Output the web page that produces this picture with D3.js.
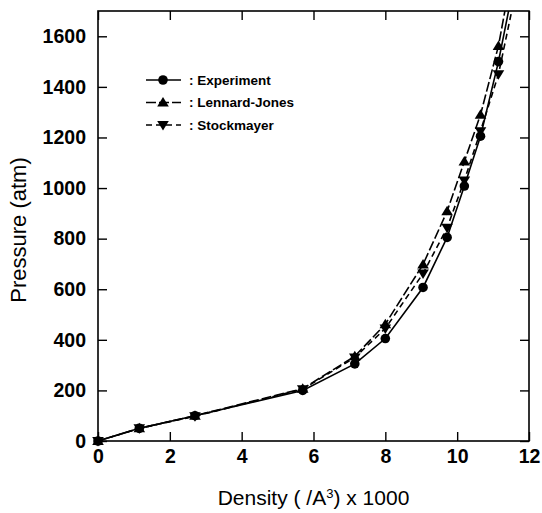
<!DOCTYPE html>
<meta charset="utf-8">
<style>
  body { margin: 0; background: #fff; }
  svg { display: block; font-family: "Liberation Sans", Arial, sans-serif; }
  .axis path { display: none; }
  .axis line { stroke: #000; stroke-width: 1.4px; }
  .axis text { font-size: 19.5px; font-weight: bold; fill: #000; }
  .legend text { font-size: 13.5px; font-weight: bold; fill: #000; }
</style>
<body>
<div id="chart"></div>
<script src="https://d3js.org/d3.v7.min.js"></script>
<script>

// values (last point lies above the frame and gets clipped)
var density    = [0, 1.15, 2.7, 5.7, 7.15, 8.0, 9.05, 9.72, 10.2, 10.65, 11.15, 11.6];
var experiment = [0, 50, 100, 200, 305, 405, 607, 805, 1008, 1205, 1500, 1820];
var lennard    = [0, 50, 100, 207, 335, 462, 698, 908, 1105, 1290, 1562, 1910];
var stockmayer = [0, 50, 98, 205, 330, 445, 662, 843, 1030, 1225, 1450, 1755];

var seriesNames = [": Experiment", ": Lennard-Jones", ": Stockmayer"];
var xTicks = [0, 2, 4, 6, 8, 10, 12];
var yTicks = [0, 200, 400, 600, 800, 1000, 1200, 1400, 1600];

var W = 542, H = 513;
var margin = {top: 11, right: 13, bottom: 72, left: 98};
var width = W - margin.left - margin.right,
    height = H - margin.top - margin.bottom;

var x = d3.scaleLinear().domain([0, 12]).range([0, width]);
var y = d3.scaleLinear().domain([0, 1700]).range([height, 0]);

var svg = d3.select("#chart").append("svg")
    .attr("width", W)
    .attr("height", H)
  .append("g")
    .attr("transform", "translate(" + margin.left + "," + margin.top + ")");

// clip only the top (markers at origin overlap the axes in the original)
svg.append("clipPath").attr("id", "clip")
  .append("rect")
    .attr("x", -20).attr("y", 0)
    .attr("width", width + 20).attr("height", height + 20);

// axes, ticks pointing inward on all four sides
svg.append("g").attr("class", "axis")
    .attr("transform", "translate(0," + height + ")")
    .call(d3.axisBottom(x).tickValues(xTicks).tickFormat(d3.format("d"))
      .tickSizeInner(-9).tickSizeOuter(0).tickPadding(8));

svg.append("g").attr("class", "axis")
    .call(d3.axisTop(x).tickValues(xTicks).tickSizeInner(-9).tickSizeOuter(0).tickFormat(""));

svg.append("g").attr("class", "axis")
    .call(d3.axisLeft(y).tickValues(yTicks).tickFormat(d3.format("d"))
      .tickSizeInner(-9).tickSizeOuter(0).tickPadding(12));

svg.append("g").attr("class", "axis")
    .attr("transform", "translate(" + width + ",0)")
    .call(d3.axisRight(y).tickValues(yTicks).tickSizeInner(-9).tickSizeOuter(0).tickFormat(""));

svg.append("rect")
    .attr("width", width)
    .attr("height", height)
    .attr("fill", "none")
    .attr("stroke", "#000")
    .attr("stroke-width", 1.6);

// series
var series = [
  {name: seriesNames[0], values: experiment, dash: null,   symbol: "circle"},
  {name: seriesNames[1], values: lennard,    dash: "10,3", symbol: "up"},
  {name: seriesNames[2], values: stockmayer, dash: "6,4",  symbol: "down"}
];

function marker(sel, type) {
  if (type === "circle") {
    sel.append("circle").attr("r", 4.8);
  } else {
    var s = type === "up" ? 1 : -1;
    sel.append("path").attr("d",
      "M0," + (-5.5 * s) + "L5.8," + (4 * s) + "L-5.8," + (4 * s) + "Z");
  }
}

var line = d3.line()
    .x(function(d) { return x(d[0]); })
    .y(function(d) { return y(d[1]); });

var plot = svg.append("g").attr("clip-path", "url(#clip)");

series.forEach(function(s) {
  var pts = density.map(function(d, i) { return [d, s.values[i]]; });

  plot.append("path")
      .datum(pts)
      .attr("d", line)
      .attr("fill", "none")
      .attr("stroke", "#000")
      .attr("stroke-width", 1.6)
      .attr("stroke-dasharray", s.dash);

  plot.selectAll(null)
      .data(pts.filter(function(p) { return p[1] <= 1700; }))
    .enter().append("g")
      .attr("transform", function(p) { return "translate(" + x(p[0]) + "," + y(p[1]) + ")"; })
      .attr("fill", "#000")
      .each(function() { marker(d3.select(this), s.symbol); });
});

// legend
var legend = svg.append("g").attr("class", "legend")
    .attr("transform", "translate(" + (146 - margin.left) + "," + (80 - margin.top) + ")");

series.forEach(function(s, i) {
  var row = legend.append("g").attr("transform", "translate(0," + (i * 22.5) + ")");
  row.append("line")
      .attr("x1", 0).attr("x2", 35)
      .attr("stroke", "#000")
      .attr("stroke-width", 1.6)
      .attr("stroke-dasharray", s.dash);
  var m = row.append("g").attr("transform", "translate(17,0)").attr("fill", "#000");
  marker(m, s.symbol);
  row.append("text")
      .attr("x", 43)
      .attr("dy", "0.36em")
      .text(s.name);
});

// axis titles
svg.append("text")
    .attr("x", width / 2)
    .attr("y", 505 - margin.top)
    .attr("text-anchor", "middle")
    .style("font-size", "21px")
    .html("Density ( /A<tspan baseline-shift='super' font-size='13px'>3</tspan>) x 1000");

svg.append("text")
    .attr("transform", "translate(" + (26 - margin.left) + "," + (230 - margin.top) + ") rotate(-90)")
    .attr("text-anchor", "middle")
    .style("font-size", "22px")
    .text("Pressure (atm)");

</script>
</body>
